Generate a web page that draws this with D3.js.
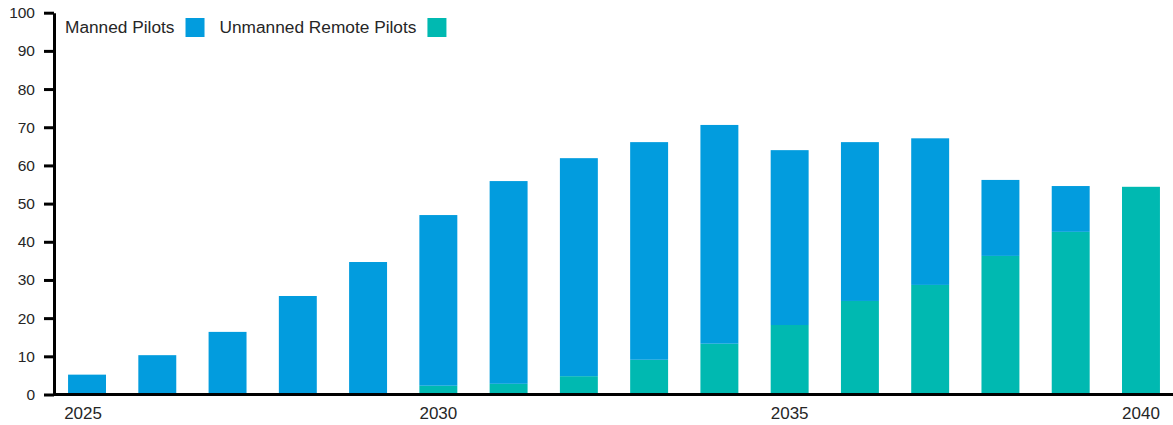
<!DOCTYPE html>
<html>
<head>
<meta charset="utf-8">
<script src="https://cdn.jsdelivr.net/npm/d3@7"></script>
<style>
  html, body { margin: 0; padding: 0; background: #fff; }
  svg { display: block; font-family: "Liberation Sans", Arial, sans-serif; }
</style>
</head>
<body>
<svg id="chart" width="1173" height="425"></svg>
<script>
const years = ["2025","2026","2027","2028","2029","2030","2031","2032","2033","2034","2035","2036","2037","2038","2039","2040"];
const mannedPilots = [5.2, 10.3, 16.4, 25.8, 34.7, 44.7, 53.1, 57.1, 57.0, 57.3, 45.8, 41.6, 38.4, 19.9, 12.0, 0];
const unmannedPilots = [0, 0, 0, 0, 0, 2.3, 2.8, 4.8, 9.1, 13.3, 18.2, 24.5, 28.7, 36.3, 42.6, 54.4];
const yTicks = [0, 10, 20, 30, 40, 50, 60, 70, 80, 90, 100];
const xTickLabels = ["2025", "2030", "2035", "2040"];
const seriesNames = ["Manned Pilots", "Unmanned Remote Pilots"];
const seriesColors = ["#029cde", "#00b9b1"];

const svg = d3.select("#chart");
const textColor = "#262626";

const rows = years.map((y, i) => ({ year: y, manned: mannedPilots[i], unmanned: unmannedPilots[i] }));
const stack = d3.stack().keys(["unmanned", "manned"]);
const stacked = stack(rows);

const x = d3.scaleBand().domain(years).range([51.9, 1176.1]).paddingInner(0.46).paddingOuter(0.23);
const y = d3.scaleLinear().domain([0, 100]).range([394.5, 12.7]);

const colorByKey = { manned: seriesColors[0], unmanned: seriesColors[1] };

svg.append("g").selectAll("g")
  .data(stacked)
  .join("g")
  .attr("fill", d => colorByKey[d.key])
  .selectAll("rect")
  .data(d => d)
  .join("rect")
  .attr("x", d => x(d.data.year))
  .attr("width", x.bandwidth())
  .attr("y", d => y(d[1]))
  .attr("height", d => y(d[0]) - y(d[1]));

// Y axis
const yAxis = d3.axisLeft(y).tickValues(yTicks).tickSize(10).tickPadding(9).tickSizeOuter(0);
const gy = svg.append("g").attr("transform", "translate(54,0)").call(yAxis);
gy.select(".domain").attr("stroke", "#000").attr("stroke-width", 3);
gy.selectAll(".tick line").attr("stroke", "#000").attr("stroke-width", 3);
gy.selectAll(".tick text").attr("fill", textColor).style("font-size", "15.5px").style("font-family", "Liberation Sans, Arial, sans-serif");

// X axis
const xAxis = d3.axisBottom(x).tickValues(xTickLabels).tickSize(0).tickPadding(12).tickSizeOuter(0);
const gx = svg.append("g").attr("transform", `translate(0,${y(0)})`).call(xAxis);
gx.select(".domain").remove();
gx.selectAll(".tick text")
  .attr("fill", textColor)
  .attr("dx", (d, i) => i === 0 ? -4 : 0)
  .style("font-size", "17px").style("font-family", "Liberation Sans, Arial, sans-serif");
svg.append("line")
  .attr("x1", 54).attr("x2", 1173)
  .attr("y1", y(0)).attr("y2", y(0))
  .attr("stroke", "#000").attr("stroke-width", 3);

// Legend
const legend = svg.append("g");
let lx = 65;
seriesNames.forEach((name, i) => {
  const t = legend.append("text")
    .attr("x", lx).attr("y", 33)
    .attr("fill", textColor)
    .style("font-size", "17.3px")
    .text(name);
  const w = t.node().getComputedTextLength();
  const sx = lx + w + 11;
  legend.append("rect")
    .attr("x", sx).attr("y", 18)
    .attr("width", 19).attr("height", 19)
    .attr("fill", seriesColors[i]);
  lx = sx + 19 + 15;
});
</script>
</body>
</html>
